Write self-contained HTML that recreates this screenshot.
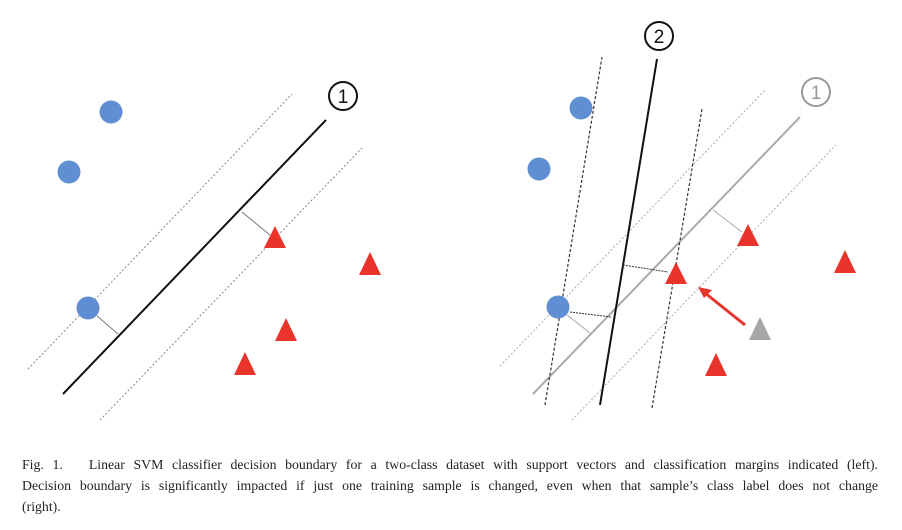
<!DOCTYPE html>
<html><head><meta charset="utf-8"><style>
body{margin:0;width:902px;height:530px;background:#fff;overflow:hidden;position:relative}
svg{position:absolute;left:0;top:0}
.cap{position:absolute;left:22px;width:856px;font-family:"Liberation Serif",serif;font-size:13.8px;color:#222;white-space:nowrap}
.j{text-align:justify;text-align-last:justify}
</style></head><body>
<svg width="902" height="430">
<g>
<line x1="28" y1="369" x2="292" y2="94" stroke="#888" stroke-width="1" stroke-dasharray="2,2"/>
<line x1="100" y1="420" x2="362" y2="148" stroke="#888" stroke-width="1" stroke-dasharray="2,2"/>
<line x1="63" y1="394" x2="326" y2="120" stroke="#111" stroke-width="2"/>
<line x1="97" y1="316" x2="118" y2="334" stroke="#777" stroke-width="1"/>
<line x1="242" y1="212" x2="270" y2="235" stroke="#777" stroke-width="1"/>
<circle cx="111" cy="112" r="11.5" fill="#5f8fd2"/>
<circle cx="69" cy="172" r="11.5" fill="#5f8fd2"/>
<circle cx="88" cy="308" r="11.5" fill="#5f8fd2"/>
<polygon points="275,226 264,248 286,248" fill="#e8342a"/>
<polygon points="370,252 359,275 381,275" fill="#e8342a"/>
<polygon points="286,318 275,341 297,341" fill="#e8342a"/>
<polygon points="245,352 234,375 256,375" fill="#e8342a"/>
<circle cx="343" cy="96" r="14" fill="#fff" stroke="#111" stroke-width="2"/>
<text x="343" y="103" font-family="Liberation Sans,sans-serif" font-size="19" text-anchor="middle" fill="#111">1</text>
</g>
<g>
<line x1="500" y1="366" x2="765" y2="90" stroke="#aaa" stroke-width="1" stroke-dasharray="2,2"/>
<line x1="572" y1="420" x2="836" y2="145" stroke="#aaa" stroke-width="1" stroke-dasharray="2,2"/>
<line x1="533" y1="394" x2="800" y2="117" stroke="#aaa" stroke-width="2"/>
<line x1="545" y1="405" x2="602" y2="57" stroke="#333" stroke-width="1.2" stroke-dasharray="3,2"/>
<line x1="652" y1="408" x2="702" y2="109" stroke="#333" stroke-width="1.2" stroke-dasharray="3,2"/>
<line x1="600" y1="405" x2="657" y2="59" stroke="#111" stroke-width="2"/>
<line x1="623" y1="265" x2="668" y2="272" stroke="#333" stroke-width="1" stroke-dasharray="2,1"/>
<line x1="570" y1="312" x2="611" y2="317" stroke="#333" stroke-width="1" stroke-dasharray="2,1"/>
<line x1="713" y1="210" x2="742" y2="232" stroke="#aaa" stroke-width="1"/>
<line x1="567" y1="315" x2="590" y2="333" stroke="#aaa" stroke-width="1"/>
<circle cx="581" cy="108" r="11.5" fill="#5f8fd2"/>
<circle cx="539" cy="169" r="11.5" fill="#5f8fd2"/>
<circle cx="558" cy="307" r="11.5" fill="#5f8fd2"/>
<polygon points="748,224 737,246 759,246" fill="#e8342a"/>
<polygon points="845,250 834,273 856,273" fill="#e8342a"/>
<polygon points="676,262 665,284 687,284" fill="#e8342a"/>
<polygon points="716,353 705,376 727,376" fill="#e8342a"/>
<polygon points="760,317 749,340 771,340" fill="#a6a6a6"/>
<line x1="745" y1="325" x2="705" y2="293" stroke="#e8342a" stroke-width="3"/>
<polygon points="698,287 712,290 704,298" fill="#e8342a"/>
<circle cx="659" cy="36" r="14" fill="#fff" stroke="#111" stroke-width="2"/>
<text x="659" y="43" font-family="Liberation Sans,sans-serif" font-size="19" text-anchor="middle" fill="#111">2</text>
<circle cx="816" cy="92" r="14" fill="#fff" stroke="#999" stroke-width="2"/>
<text x="816" y="99" font-family="Liberation Sans,sans-serif" font-size="19" text-anchor="middle" fill="#999">1</text>
</g>
</svg>
<div class="cap j" style="top:457px">Fig. 1.&nbsp;&nbsp; Linear SVM classifier decision boundary for a two-class dataset with support vectors and classification margins indicated (left).</div>
<div class="cap j" style="top:478px">Decision boundary is significantly impacted if just one training sample is changed, even when that sample’s class label does not change</div>
<div class="cap" style="top:499px">(right).</div>
</body></html>
